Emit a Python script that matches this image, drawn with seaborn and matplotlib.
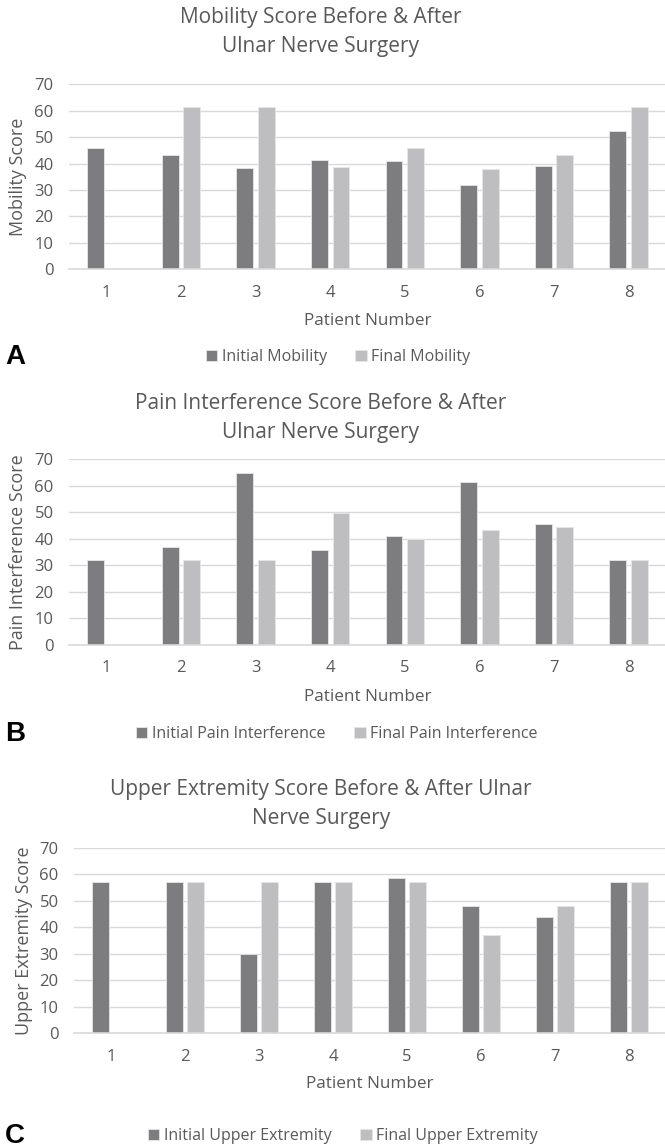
import pandas as pd
import numpy as np
import matplotlib
matplotlib.use("Agg")
import matplotlib.pyplot as plt
import seaborn as sns

# dati
patients = [1, 2, 3, 4, 5, 6, 7, 8]

mob_initial = [45.8, 43.1, 38.3, 41.5, 41.0, 32.0, 39.2, 52.4]
mob_final = [np.nan, 61.6, 61.6, 38.8, 45.8, 38.0, 43.2, 61.6]

pain_initial = [31.9, 37.0, 64.7, 35.8, 41.0, 61.6, 45.6, 31.9]
pain_final = [np.nan, 31.9, 31.9, 49.7, 39.8, 43.2, 44.3, 31.9]

ue_initial = [57.2, 57.2, 29.9, 57.2, 58.7, 47.9, 43.9, 57.2]
ue_final = [np.nan, 57.2, 57.2, 57.2, 57.2, 37.1, 47.9, 57.2]

panels = [
    ("Mobility Score Before & After\nUlnar Nerve Surgery", "Mobility Score",
     "Initial Mobility", "Final Mobility", mob_initial, mob_final, "A"),
    ("Pain Interference Score Before & After\nUlnar Nerve Surgery", "Pain Interference Score",
     "Initial Pain Interference", "Final Pain Interference", pain_initial, pain_final, "B"),
    ("Upper Extremity Score Before & After Ulnar\nNerve Surgery", "Upper Extremity Score",
     "Initial Upper Extremity", "Final Upper Extremity", ue_initial, ue_final, "C"),
]

sns.set_style("white")
plt.rcParams["font.family"] = ["Open Sans", "DejaVu Sans"]

W, H = 665, 1148
fig = plt.figure(figsize=(W / 100, H / 100), dpi=100)

grey_txt = "#595959"
c_init = "#7C7D81"
c_fin = "#BDBEC2"

# posizioni in pixel: (sinistra, alto asse, basso asse, y titolo, y xlabel, y legenda, x ylabel, centro legenda)
layout = [
    (69, 84.3, 269.3, 32, 321, 357, 18, 338),
    (69, 459.3, 644.7, 418, 697, 734, 18, 337),
    (74, 847.7, 1033.3, 804, 1084, 1136, 24, 343),
]
right = 666

for (title, ylab, lab_i, lab_f, vi, vf, letter), (left, top, bot, ty, xly, ly, yx, lx) in zip(panels, layout):
    ax = fig.add_axes([left / W, 1 - bot / H, (right - left) / W, (bot - top) / H])

    df = pd.DataFrame({
        "Patient": patients * 2,
        "Score": vi + vf,
        "Serie": [lab_i] * 8 + [lab_f] * 8,
    }).dropna()

    sns.barplot(data=df, x="Patient", y="Score", hue="Serie", hue_order=[lab_i, lab_f],
                palette=[c_init, c_fin], width=0.58, gap=0.22, ax=ax,
                edgecolor="#E6E6E6", linewidth=0.6, errorbar=None)

    ax.set_ylim(0, 70)
    ax.set_yticks(range(0, 71, 10))
    ax.set_xlim(-0.5, 7.5)
    ax.yaxis.grid(True, color="#D9D9D9", linewidth=1.0)
    ax.set_axisbelow(True)
    for s in ["top", "right", "left"]:
        ax.spines[s].set_visible(False)
    ax.spines["bottom"].set_color("#D9D9D9")
    ax.spines["bottom"].set_linewidth(1.2)
    ax.tick_params(axis="both", length=0, labelsize=12, colors=grey_txt)
    ax.tick_params(axis="y", pad=11)
    ax.tick_params(axis="x", pad=11)
    ax.set_xlabel("")
    ax.set_ylabel("")

    fig.text(321 / W, 1 - ty / H, title, ha="center", va="center", fontsize=15,
             color=grey_txt, linespacing=1.5)
    fig.text((left + right) / 2 / W, 1 - xly / H, "Patient Number", ha="center", va="center",
             fontsize=12.3, color=grey_txt)
    fig.text(yx / W, 1 - (top + bot) / 2 / H, ylab, ha="center", va="center", rotation=90,
             fontsize=13, color=grey_txt)
    fig.text(5 / W, 1 - ly / H, letter, ha="left", va="center", fontsize=20,
             fontweight="bold", color="black", family="Liberation Sans")

    ax.legend(loc="center", bbox_to_anchor=(lx / W, 1 - ly / H), bbox_transform=fig.transFigure,
              ncol=2, frameon=False, fontsize=11.5, labelcolor=grey_txt, handlelength=0.7,
              handleheight=0.7, handletextpad=0.3, columnspacing=1.8)

fig.savefig("out.png", dpi=100)
